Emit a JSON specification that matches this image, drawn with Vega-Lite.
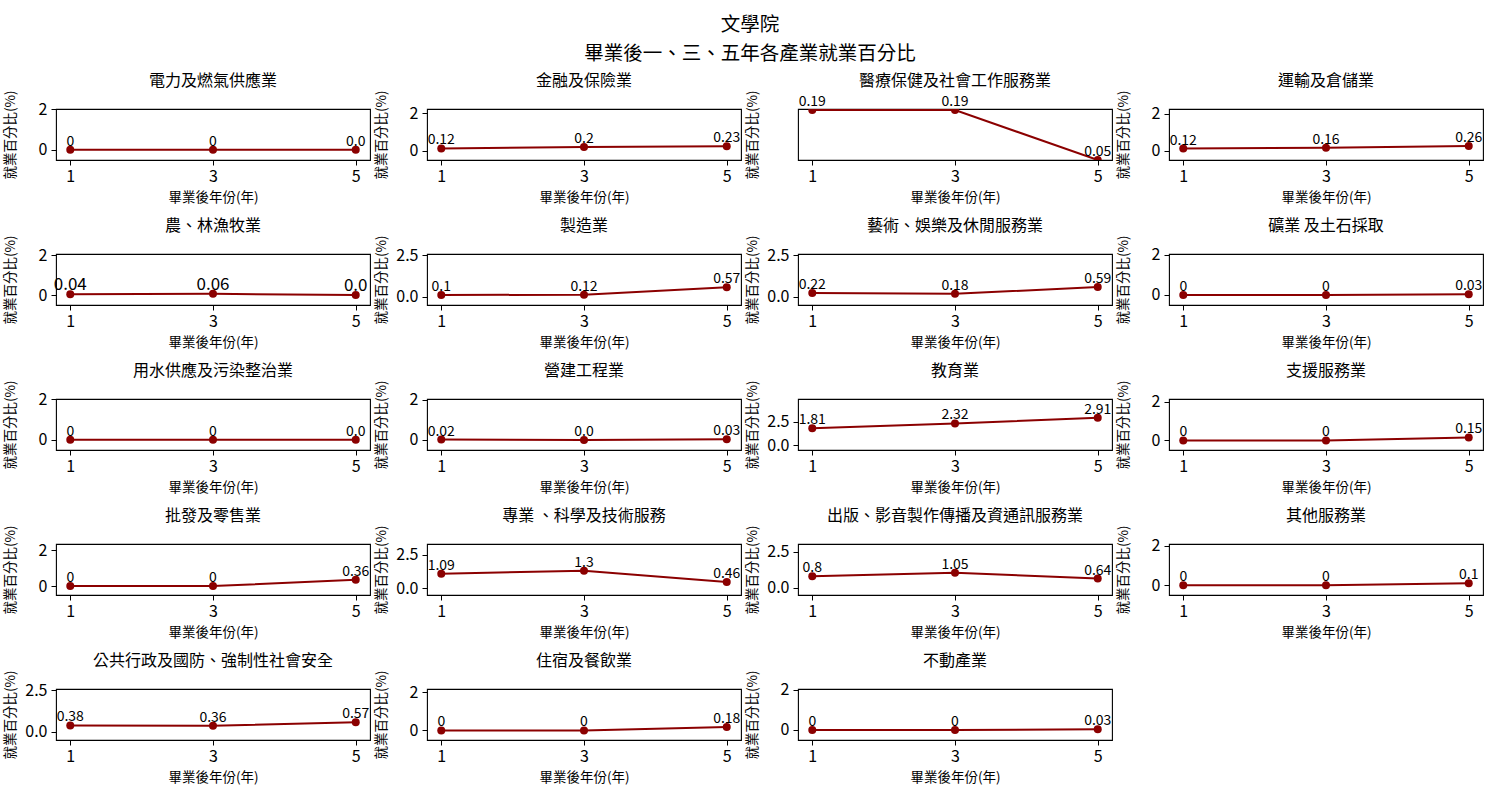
{
  "$schema": "https://vega.github.io/schema/vega-lite/v6.json",
  "background": "white",
  "padding": {"left": 2, "top": 14, "right": 5, "bottom": 5},
  "title": {
    "text": ["文學院", "畢業後一、三、五年各產業就業百分比"],
    "fontSize": 19.5, "fontWeight": "normal", "font": "Noto Sans CJK TC", "color": "black",
    "lineHeight": 29, "anchor": "middle", "frame": "bounds", "baseline": "bottom", "offset": -11, "dx": 7
  },
  "datasets": {
    "d": [
      {"ind": "電力及燃氣供應業", "yr": 1, "v": 0, "label": "0"},
      {"ind": "電力及燃氣供應業", "yr": 3, "v": 0, "label": "0"},
      {"ind": "電力及燃氣供應業", "yr": 5, "v": 0, "label": "0.0"},
      {"ind": "金融及保險業", "yr": 1, "v": 0.12, "label": "0.12"},
      {"ind": "金融及保險業", "yr": 3, "v": 0.2, "label": "0.2"},
      {"ind": "金融及保險業", "yr": 5, "v": 0.23, "label": "0.23"},
      {"ind": "醫療保健及社會工作服務業", "yr": 1, "v": 0.19, "label": "0.19"},
      {"ind": "醫療保健及社會工作服務業", "yr": 3, "v": 0.19, "label": "0.19"},
      {"ind": "醫療保健及社會工作服務業", "yr": 5, "v": 0.05, "label": "0.05"},
      {"ind": "運輸及倉儲業", "yr": 1, "v": 0.12, "label": "0.12"},
      {"ind": "運輸及倉儲業", "yr": 3, "v": 0.16, "label": "0.16"},
      {"ind": "運輸及倉儲業", "yr": 5, "v": 0.26, "label": "0.26"},
      {"ind": "農、林漁牧業", "yr": 1, "v": 0.04, "label": "0.04"},
      {"ind": "農、林漁牧業", "yr": 3, "v": 0.06, "label": "0.06"},
      {"ind": "農、林漁牧業", "yr": 5, "v": 0, "label": "0.0"},
      {"ind": "製造業", "yr": 1, "v": 0.1, "label": "0.1"},
      {"ind": "製造業", "yr": 3, "v": 0.12, "label": "0.12"},
      {"ind": "製造業", "yr": 5, "v": 0.57, "label": "0.57"},
      {"ind": "藝術、娛樂及休閒服務業", "yr": 1, "v": 0.22, "label": "0.22"},
      {"ind": "藝術、娛樂及休閒服務業", "yr": 3, "v": 0.18, "label": "0.18"},
      {"ind": "藝術、娛樂及休閒服務業", "yr": 5, "v": 0.59, "label": "0.59"},
      {"ind": "礦業 及土石採取", "yr": 1, "v": 0, "label": "0"},
      {"ind": "礦業 及土石採取", "yr": 3, "v": 0, "label": "0"},
      {"ind": "礦業 及土石採取", "yr": 5, "v": 0.03, "label": "0.03"},
      {"ind": "用水供應及污染整治業", "yr": 1, "v": 0, "label": "0"},
      {"ind": "用水供應及污染整治業", "yr": 3, "v": 0, "label": "0"},
      {"ind": "用水供應及污染整治業", "yr": 5, "v": 0, "label": "0.0"},
      {"ind": "營建工程業", "yr": 1, "v": 0.02, "label": "0.02"},
      {"ind": "營建工程業", "yr": 3, "v": 0, "label": "0.0"},
      {"ind": "營建工程業", "yr": 5, "v": 0.03, "label": "0.03"},
      {"ind": "教育業", "yr": 1, "v": 1.81, "label": "1.81"},
      {"ind": "教育業", "yr": 3, "v": 2.32, "label": "2.32"},
      {"ind": "教育業", "yr": 5, "v": 2.91, "label": "2.91"},
      {"ind": "支援服務業", "yr": 1, "v": 0, "label": "0"},
      {"ind": "支援服務業", "yr": 3, "v": 0, "label": "0"},
      {"ind": "支援服務業", "yr": 5, "v": 0.15, "label": "0.15"},
      {"ind": "批發及零售業", "yr": 1, "v": 0, "label": "0"},
      {"ind": "批發及零售業", "yr": 3, "v": 0, "label": "0"},
      {"ind": "批發及零售業", "yr": 5, "v": 0.36, "label": "0.36"},
      {"ind": "專業 、科學及技術服務", "yr": 1, "v": 1.09, "label": "1.09"},
      {"ind": "專業 、科學及技術服務", "yr": 3, "v": 1.3, "label": "1.3"},
      {"ind": "專業 、科學及技術服務", "yr": 5, "v": 0.46, "label": "0.46"},
      {"ind": "出版、影音製作傳播及資通訊服務業", "yr": 1, "v": 0.8, "label": "0.8"},
      {"ind": "出版、影音製作傳播及資通訊服務業", "yr": 3, "v": 1.05, "label": "1.05"},
      {"ind": "出版、影音製作傳播及資通訊服務業", "yr": 5, "v": 0.64, "label": "0.64"},
      {"ind": "其他服務業", "yr": 1, "v": 0, "label": "0"},
      {"ind": "其他服務業", "yr": 3, "v": 0, "label": "0"},
      {"ind": "其他服務業", "yr": 5, "v": 0.1, "label": "0.1"},
      {"ind": "公共行政及國防、強制性社會安全", "yr": 1, "v": 0.38, "label": "0.38"},
      {"ind": "公共行政及國防、強制性社會安全", "yr": 3, "v": 0.36, "label": "0.36"},
      {"ind": "公共行政及國防、強制性社會安全", "yr": 5, "v": 0.57, "label": "0.57"},
      {"ind": "住宿及餐飲業", "yr": 1, "v": 0, "label": "0"},
      {"ind": "住宿及餐飲業", "yr": 3, "v": 0, "label": "0"},
      {"ind": "住宿及餐飲業", "yr": 5, "v": 0.18, "label": "0.18"},
      {"ind": "不動產業", "yr": 1, "v": 0, "label": "0"},
      {"ind": "不動產業", "yr": 3, "v": 0, "label": "0"},
      {"ind": "不動產業", "yr": 5, "v": 0.03, "label": "0.03"}
    ]
  },
  "data": {"name": "d"},
  "columns": 4,
  "spacing": {"row": 94, "column": 57},
  "bounds": "flush",
  "concat": [
    {"title": "電力及燃氣供應業", "transform": [{"filter": "datum.ind === '電力及燃氣供應業'"}],
     "encoding": {"x": {"field": "yr", "type": "quantitative", "scale": {"domain": [0.8, 5.2], "nice": false, "zero": false}, "axis": {"values": [1, 3, 5], "title": "畢業後年份(年)"}},
                  "y": {"field": "v", "type": "quantitative", "scale": {"domain": [-0.5, 2], "nice": false, "zero": false}, "axis": {"values": [0, 2], "format": "d", "title": "就業百分比(%)"}}},
     "layer": [{"mark": {"type": "line", "color": "#8b0000", "strokeWidth": 2, "clip": true}},
               {"mark": {"type": "point", "filled": true, "size": 64, "color": "#8b0000", "opacity": 1, "clip": true}},
               {"mark": {"type": "text", "dy": -4, "baseline": "alphabetic", "fontSize": 14, "color": "black"}, "encoding": {"text": {"field": "label"}}}]},
    {"title": "金融及保險業", "transform": [{"filter": "datum.ind === '金融及保險業'"}],
     "encoding": {"x": {"field": "yr", "type": "quantitative", "scale": {"domain": [0.8, 5.2], "nice": false, "zero": false}, "axis": {"values": [1, 3, 5], "title": "畢業後年份(年)"}},
                  "y": {"field": "v", "type": "quantitative", "scale": {"domain": [-0.5, 2.23], "nice": false, "zero": false}, "axis": {"values": [0, 2], "format": "d", "title": "就業百分比(%)"}}},
     "layer": [{"mark": {"type": "line", "color": "#8b0000", "strokeWidth": 2, "clip": true}},
               {"mark": {"type": "point", "filled": true, "size": 64, "color": "#8b0000", "opacity": 1, "clip": true}},
               {"mark": {"type": "text", "dy": -4, "baseline": "alphabetic", "fontSize": 14, "color": "black"}, "encoding": {"text": {"field": "label"}}}]},
    {"title": "醫療保健及社會工作服務業", "transform": [{"filter": "datum.ind === '醫療保健及社會工作服務業'"}],
     "encoding": {"x": {"field": "yr", "type": "quantitative", "scale": {"domain": [0.8, 5.2], "nice": false, "zero": false}, "axis": {"values": [1, 3, 5], "title": "畢業後年份(年)"}},
                  "y": {"field": "v", "type": "quantitative", "scale": {"domain": [0.05, 0.193], "nice": false, "zero": false}, "axis": {"values": [], "title": "就業百分比(%)"}}},
     "layer": [{"mark": {"type": "line", "color": "#8b0000", "strokeWidth": 2, "clip": true}},
               {"mark": {"type": "point", "filled": true, "size": 64, "color": "#8b0000", "opacity": 1, "clip": true}},
               {"mark": {"type": "text", "dy": -4, "baseline": "alphabetic", "fontSize": 14, "color": "black"}, "encoding": {"text": {"field": "label"}}}]},
    {"title": "運輸及倉儲業", "transform": [{"filter": "datum.ind === '運輸及倉儲業'"}],
     "encoding": {"x": {"field": "yr", "type": "quantitative", "scale": {"domain": [0.8, 5.2], "nice": false, "zero": false}, "axis": {"values": [1, 3, 5], "title": "畢業後年份(年)"}},
                  "y": {"field": "v", "type": "quantitative", "scale": {"domain": [-0.5, 2.26], "nice": false, "zero": false}, "axis": {"values": [0, 2], "format": "d", "title": "就業百分比(%)"}}},
     "layer": [{"mark": {"type": "line", "color": "#8b0000", "strokeWidth": 2, "clip": true}},
               {"mark": {"type": "point", "filled": true, "size": 64, "color": "#8b0000", "opacity": 1, "clip": true}},
               {"mark": {"type": "text", "dy": -4, "baseline": "alphabetic", "fontSize": 14, "color": "black"}, "encoding": {"text": {"field": "label"}}}]},
    {"title": "農、林漁牧業", "transform": [{"filter": "datum.ind === '農、林漁牧業'"}],
     "encoding": {"x": {"field": "yr", "type": "quantitative", "scale": {"domain": [0.8, 5.2], "nice": false, "zero": false}, "axis": {"values": [1, 3, 5], "title": "畢業後年份(年)"}},
                  "y": {"field": "v", "type": "quantitative", "scale": {"domain": [-0.5, 2.06], "nice": false, "zero": false}, "axis": {"values": [0, 2], "format": "d", "title": "就業百分比(%)"}}},
     "layer": [{"mark": {"type": "line", "color": "#8b0000", "strokeWidth": 2, "clip": true}},
               {"mark": {"type": "point", "filled": true, "size": 64, "color": "#8b0000", "opacity": 1, "clip": true}},
               {"mark": {"type": "text", "dy": -4, "baseline": "alphabetic", "fontSize": 17, "color": "black"}, "encoding": {"text": {"field": "label"}}}]},
    {"title": "製造業", "transform": [{"filter": "datum.ind === '製造業'"}],
     "encoding": {"x": {"field": "yr", "type": "quantitative", "scale": {"domain": [0.8, 5.2], "nice": false, "zero": false}, "axis": {"values": [1, 3, 5], "title": "畢業後年份(年)"}},
                  "y": {"field": "v", "type": "quantitative", "scale": {"domain": [-0.5, 2.57], "nice": false, "zero": false}, "axis": {"values": [0, 2.5], "format": ".1f", "title": "就業百分比(%)"}}},
     "layer": [{"mark": {"type": "line", "color": "#8b0000", "strokeWidth": 2, "clip": true}},
               {"mark": {"type": "point", "filled": true, "size": 64, "color": "#8b0000", "opacity": 1, "clip": true}},
               {"mark": {"type": "text", "dy": -4, "baseline": "alphabetic", "fontSize": 14, "color": "black"}, "encoding": {"text": {"field": "label"}}}]},
    {"title": "藝術、娛樂及休閒服務業", "transform": [{"filter": "datum.ind === '藝術、娛樂及休閒服務業'"}],
     "encoding": {"x": {"field": "yr", "type": "quantitative", "scale": {"domain": [0.8, 5.2], "nice": false, "zero": false}, "axis": {"values": [1, 3, 5], "title": "畢業後年份(年)"}},
                  "y": {"field": "v", "type": "quantitative", "scale": {"domain": [-0.5, 2.59], "nice": false, "zero": false}, "axis": {"values": [0, 2.5], "format": ".1f", "title": "就業百分比(%)"}}},
     "layer": [{"mark": {"type": "line", "color": "#8b0000", "strokeWidth": 2, "clip": true}},
               {"mark": {"type": "point", "filled": true, "size": 64, "color": "#8b0000", "opacity": 1, "clip": true}},
               {"mark": {"type": "text", "dy": -4, "baseline": "alphabetic", "fontSize": 14, "color": "black"}, "encoding": {"text": {"field": "label"}}}]},
    {"title": "礦業 及土石採取", "transform": [{"filter": "datum.ind === '礦業 及土石採取'"}],
     "encoding": {"x": {"field": "yr", "type": "quantitative", "scale": {"domain": [0.8, 5.2], "nice": false, "zero": false}, "axis": {"values": [1, 3, 5], "title": "畢業後年份(年)"}},
                  "y": {"field": "v", "type": "quantitative", "scale": {"domain": [-0.5, 2.03], "nice": false, "zero": false}, "axis": {"values": [0, 2], "format": "d", "title": "就業百分比(%)"}}},
     "layer": [{"mark": {"type": "line", "color": "#8b0000", "strokeWidth": 2, "clip": true}},
               {"mark": {"type": "point", "filled": true, "size": 64, "color": "#8b0000", "opacity": 1, "clip": true}},
               {"mark": {"type": "text", "dy": -4, "baseline": "alphabetic", "fontSize": 14, "color": "black"}, "encoding": {"text": {"field": "label"}}}]},
    {"title": "用水供應及污染整治業", "transform": [{"filter": "datum.ind === '用水供應及污染整治業'"}],
     "encoding": {"x": {"field": "yr", "type": "quantitative", "scale": {"domain": [0.8, 5.2], "nice": false, "zero": false}, "axis": {"values": [1, 3, 5], "title": "畢業後年份(年)"}},
                  "y": {"field": "v", "type": "quantitative", "scale": {"domain": [-0.5, 2], "nice": false, "zero": false}, "axis": {"values": [0, 2], "format": "d", "title": "就業百分比(%)"}}},
     "layer": [{"mark": {"type": "line", "color": "#8b0000", "strokeWidth": 2, "clip": true}},
               {"mark": {"type": "point", "filled": true, "size": 64, "color": "#8b0000", "opacity": 1, "clip": true}},
               {"mark": {"type": "text", "dy": -4, "baseline": "alphabetic", "fontSize": 14, "color": "black"}, "encoding": {"text": {"field": "label"}}}]},
    {"title": "營建工程業", "transform": [{"filter": "datum.ind === '營建工程業'"}],
     "encoding": {"x": {"field": "yr", "type": "quantitative", "scale": {"domain": [0.8, 5.2], "nice": false, "zero": false}, "axis": {"values": [1, 3, 5], "title": "畢業後年份(年)"}},
                  "y": {"field": "v", "type": "quantitative", "scale": {"domain": [-0.5, 2.03], "nice": false, "zero": false}, "axis": {"values": [0, 2], "format": "d", "title": "就業百分比(%)"}}},
     "layer": [{"mark": {"type": "line", "color": "#8b0000", "strokeWidth": 2, "clip": true}},
               {"mark": {"type": "point", "filled": true, "size": 64, "color": "#8b0000", "opacity": 1, "clip": true}},
               {"mark": {"type": "text", "dy": -4, "baseline": "alphabetic", "fontSize": 14, "color": "black"}, "encoding": {"text": {"field": "label"}}}]},
    {"title": "教育業", "transform": [{"filter": "datum.ind === '教育業'"}],
     "encoding": {"x": {"field": "yr", "type": "quantitative", "scale": {"domain": [0.8, 5.2], "nice": false, "zero": false}, "axis": {"values": [1, 3, 5], "title": "畢業後年份(年)"}},
                  "y": {"field": "v", "type": "quantitative", "scale": {"domain": [-0.5, 4.91], "nice": false, "zero": false}, "axis": {"values": [0, 2.5], "format": ".1f", "title": "就業百分比(%)"}}},
     "layer": [{"mark": {"type": "line", "color": "#8b0000", "strokeWidth": 2, "clip": true}},
               {"mark": {"type": "point", "filled": true, "size": 64, "color": "#8b0000", "opacity": 1, "clip": true}},
               {"mark": {"type": "text", "dy": -4, "baseline": "alphabetic", "fontSize": 14, "color": "black"}, "encoding": {"text": {"field": "label"}}}]},
    {"title": "支援服務業", "transform": [{"filter": "datum.ind === '支援服務業'"}],
     "encoding": {"x": {"field": "yr", "type": "quantitative", "scale": {"domain": [0.8, 5.2], "nice": false, "zero": false}, "axis": {"values": [1, 3, 5], "title": "畢業後年份(年)"}},
                  "y": {"field": "v", "type": "quantitative", "scale": {"domain": [-0.5, 2.15], "nice": false, "zero": false}, "axis": {"values": [0, 2], "format": "d", "title": "就業百分比(%)"}}},
     "layer": [{"mark": {"type": "line", "color": "#8b0000", "strokeWidth": 2, "clip": true}},
               {"mark": {"type": "point", "filled": true, "size": 64, "color": "#8b0000", "opacity": 1, "clip": true}},
               {"mark": {"type": "text", "dy": -4, "baseline": "alphabetic", "fontSize": 14, "color": "black"}, "encoding": {"text": {"field": "label"}}}]},
    {"title": "批發及零售業", "transform": [{"filter": "datum.ind === '批發及零售業'"}],
     "encoding": {"x": {"field": "yr", "type": "quantitative", "scale": {"domain": [0.8, 5.2], "nice": false, "zero": false}, "axis": {"values": [1, 3, 5], "title": "畢業後年份(年)"}},
                  "y": {"field": "v", "type": "quantitative", "scale": {"domain": [-0.5, 2.36], "nice": false, "zero": false}, "axis": {"values": [0, 2], "format": "d", "title": "就業百分比(%)"}}},
     "layer": [{"mark": {"type": "line", "color": "#8b0000", "strokeWidth": 2, "clip": true}},
               {"mark": {"type": "point", "filled": true, "size": 64, "color": "#8b0000", "opacity": 1, "clip": true}},
               {"mark": {"type": "text", "dy": -4, "baseline": "alphabetic", "fontSize": 14, "color": "black"}, "encoding": {"text": {"field": "label"}}}]},
    {"title": "專業 、科學及技術服務", "transform": [{"filter": "datum.ind === '專業 、科學及技術服務'"}],
     "encoding": {"x": {"field": "yr", "type": "quantitative", "scale": {"domain": [0.8, 5.2], "nice": false, "zero": false}, "axis": {"values": [1, 3, 5], "title": "畢業後年份(年)"}},
                  "y": {"field": "v", "type": "quantitative", "scale": {"domain": [-0.5, 3.3], "nice": false, "zero": false}, "axis": {"values": [0, 2.5], "format": ".1f", "title": "就業百分比(%)"}}},
     "layer": [{"mark": {"type": "line", "color": "#8b0000", "strokeWidth": 2, "clip": true}},
               {"mark": {"type": "point", "filled": true, "size": 64, "color": "#8b0000", "opacity": 1, "clip": true}},
               {"mark": {"type": "text", "dy": -4, "baseline": "alphabetic", "fontSize": 14, "color": "black"}, "encoding": {"text": {"field": "label"}}}]},
    {"title": "出版、影音製作傳播及資通訊服務業", "transform": [{"filter": "datum.ind === '出版、影音製作傳播及資通訊服務業'"}],
     "encoding": {"x": {"field": "yr", "type": "quantitative", "scale": {"domain": [0.8, 5.2], "nice": false, "zero": false}, "axis": {"values": [1, 3, 5], "title": "畢業後年份(年)"}},
                  "y": {"field": "v", "type": "quantitative", "scale": {"domain": [-0.5, 3.05], "nice": false, "zero": false}, "axis": {"values": [0, 2.5], "format": ".1f", "title": "就業百分比(%)"}}},
     "layer": [{"mark": {"type": "line", "color": "#8b0000", "strokeWidth": 2, "clip": true}},
               {"mark": {"type": "point", "filled": true, "size": 64, "color": "#8b0000", "opacity": 1, "clip": true}},
               {"mark": {"type": "text", "dy": -4, "baseline": "alphabetic", "fontSize": 14, "color": "black"}, "encoding": {"text": {"field": "label"}}}]},
    {"title": "其他服務業", "transform": [{"filter": "datum.ind === '其他服務業'"}],
     "encoding": {"x": {"field": "yr", "type": "quantitative", "scale": {"domain": [0.8, 5.2], "nice": false, "zero": false}, "axis": {"values": [1, 3, 5], "title": "畢業後年份(年)"}},
                  "y": {"field": "v", "type": "quantitative", "scale": {"domain": [-0.5, 2.1], "nice": false, "zero": false}, "axis": {"values": [0, 2], "format": "d", "title": "就業百分比(%)"}}},
     "layer": [{"mark": {"type": "line", "color": "#8b0000", "strokeWidth": 2, "clip": true}},
               {"mark": {"type": "point", "filled": true, "size": 64, "color": "#8b0000", "opacity": 1, "clip": true}},
               {"mark": {"type": "text", "dy": -4, "baseline": "alphabetic", "fontSize": 14, "color": "black"}, "encoding": {"text": {"field": "label"}}}]},
    {"title": "公共行政及國防、強制性社會安全", "transform": [{"filter": "datum.ind === '公共行政及國防、強制性社會安全'"}],
     "encoding": {"x": {"field": "yr", "type": "quantitative", "scale": {"domain": [0.8, 5.2], "nice": false, "zero": false}, "axis": {"values": [1, 3, 5], "title": "畢業後年份(年)"}},
                  "y": {"field": "v", "type": "quantitative", "scale": {"domain": [-0.5, 2.57], "nice": false, "zero": false}, "axis": {"values": [0, 2.5], "format": ".1f", "title": "就業百分比(%)"}}},
     "layer": [{"mark": {"type": "line", "color": "#8b0000", "strokeWidth": 2, "clip": true}},
               {"mark": {"type": "point", "filled": true, "size": 64, "color": "#8b0000", "opacity": 1, "clip": true}},
               {"mark": {"type": "text", "dy": -4, "baseline": "alphabetic", "fontSize": 14, "color": "black"}, "encoding": {"text": {"field": "label"}}}]},
    {"title": "住宿及餐飲業", "transform": [{"filter": "datum.ind === '住宿及餐飲業'"}],
     "encoding": {"x": {"field": "yr", "type": "quantitative", "scale": {"domain": [0.8, 5.2], "nice": false, "zero": false}, "axis": {"values": [1, 3, 5], "title": "畢業後年份(年)"}},
                  "y": {"field": "v", "type": "quantitative", "scale": {"domain": [-0.5, 2.18], "nice": false, "zero": false}, "axis": {"values": [0, 2], "format": "d", "title": "就業百分比(%)"}}},
     "layer": [{"mark": {"type": "line", "color": "#8b0000", "strokeWidth": 2, "clip": true}},
               {"mark": {"type": "point", "filled": true, "size": 64, "color": "#8b0000", "opacity": 1, "clip": true}},
               {"mark": {"type": "text", "dy": -4, "baseline": "alphabetic", "fontSize": 14, "color": "black"}, "encoding": {"text": {"field": "label"}}}]},
    {"title": "不動產業", "transform": [{"filter": "datum.ind === '不動產業'"}],
     "encoding": {"x": {"field": "yr", "type": "quantitative", "scale": {"domain": [0.8, 5.2], "nice": false, "zero": false}, "axis": {"values": [1, 3, 5], "title": "畢業後年份(年)"}},
                  "y": {"field": "v", "type": "quantitative", "scale": {"domain": [-0.5, 2.03], "nice": false, "zero": false}, "axis": {"values": [0, 2], "format": "d", "title": "就業百分比(%)"}}},
     "layer": [{"mark": {"type": "line", "color": "#8b0000", "strokeWidth": 2, "clip": true}},
               {"mark": {"type": "point", "filled": true, "size": 64, "color": "#8b0000", "opacity": 1, "clip": true}},
               {"mark": {"type": "text", "dy": -4, "baseline": "alphabetic", "fontSize": 14, "color": "black"}, "encoding": {"text": {"field": "label"}}}]}
  ],
  "config": {
    "font": "Noto Sans CJK TC",
    "view": {"continuousWidth": 314, "continuousHeight": 51, "stroke": "black", "strokeWidth": 1.1},
    "axis": {
      "domain": false, "grid": false, "ticks": true, "tickColor": "black", "tickSize": 5, "tickWidth": 1,
      "labelFontSize": 16, "labelColor": "black", "labelFont": "Noto Sans CJK TC",
      "titleFontSize": 13.5, "titleFontWeight": "normal", "titleColor": "black", "titleFont": "Noto Sans CJK TC"
    },
    "axisX": {"labelPadding": 3, "titleY": 37, "titleBaseline": "middle", "labelAngle": 0},
    "axisY": {"labelPadding": 4, "titleX": -46, "titleY": 25.5, "titleAngle": -90, "titleAlign": "center", "titleBaseline": "middle"},
    "title": {"fontSize": 16, "fontWeight": "normal", "color": "black", "font": "Noto Sans CJK TC", "baseline": "alphabetic", "offset": 1}
  }
}
